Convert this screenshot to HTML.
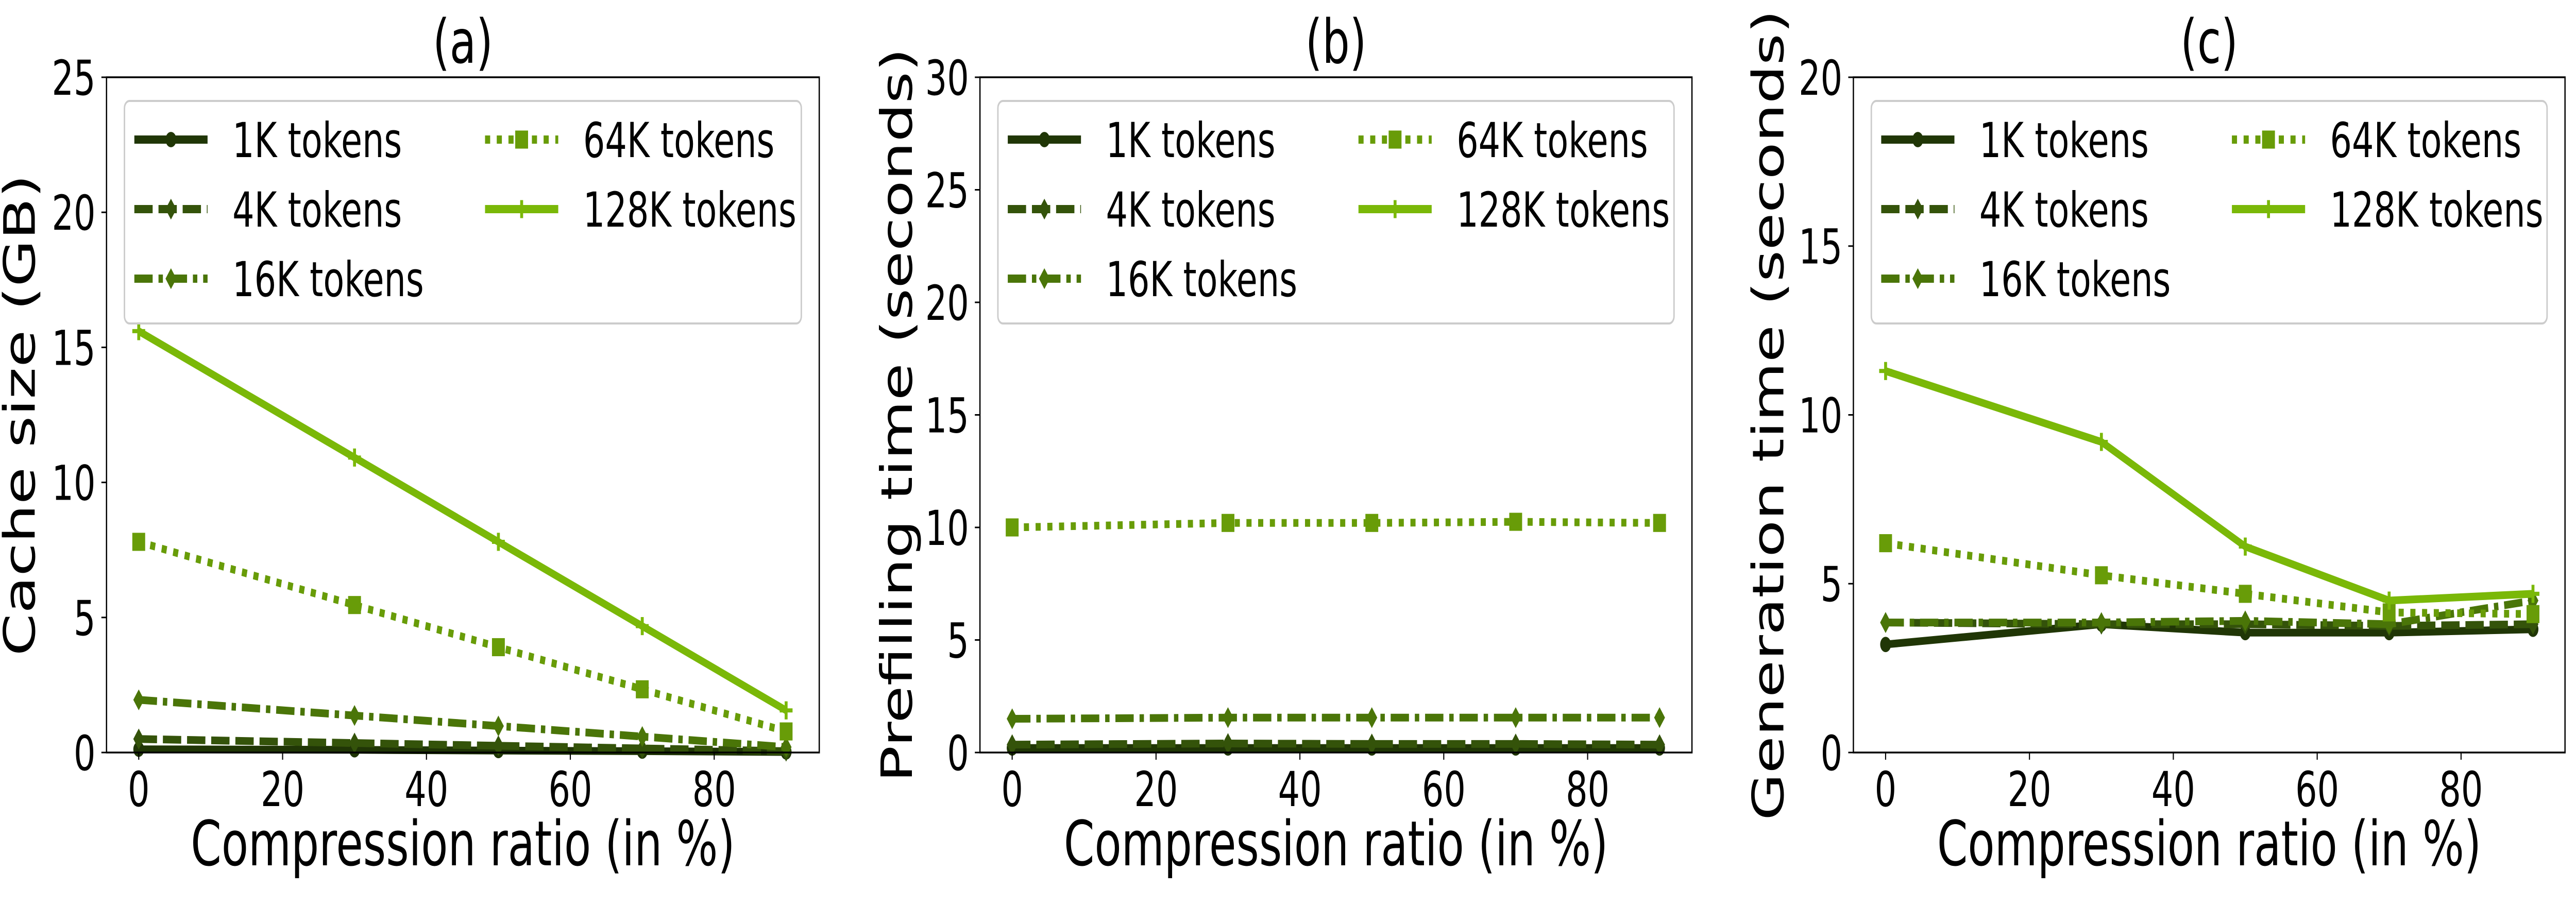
<!DOCTYPE html>
<html><head><meta charset="utf-8"><style>html,body{margin:0;padding:0;background:#fff;width:100%;height:100%;overflow:hidden}svg{display:block;position:absolute;left:0;top:0;width:100vw;height:100vh}</style></head>
<body>
<svg id="s" xmlns="http://www.w3.org/2000/svg" viewBox="0 0 7037 1759" preserveAspectRatio="none" font-family="DejaVu Sans, Liberation Sans, sans-serif"></svg>
<script>
const S=document.getElementById('s');let h='';
const cols=['#203606','#34530a','#4a7508','#689c08','#7ab808'];
const dashes=['','50 16','50 16 12 16','14 18',''];
const markers=['c','d','d','s','p'];
const names=['1K tokens','4K tokens','16K tokens','64K tokens','128K tokens'];
const xs=[0,30,50,70,90];
const panels=[
 {L:291,R:2238,ymax:25,step:5,title:'(a)',yl:'Cache size (GB)',ylx:95,
  d:[[0.12,0.1,0.07,0.05,0.02],[0.5,0.35,0.25,0.15,0.05],[1.95,1.37,0.98,0.59,0.2],[7.8,5.46,3.9,2.34,0.78],[15.6,10.92,7.8,4.68,1.56]]},
 {L:2677,R:4622,ymax:30,step:5,title:'(b)',yl:'Prefilling time (seconds)',ylx:2491,
  d:[[0.2,0.2,0.2,0.2,0.2],[0.35,0.4,0.38,0.38,0.35],[1.5,1.55,1.55,1.55,1.55],[10.0,10.2,10.2,10.25,10.2],null]},
 {L:5063,R:7007,ymax:20,step:5,title:'(c)',yl:'Generation time (seconds)',ylx:4872,
  d:[[3.2,3.8,3.55,3.55,3.65],[3.85,3.8,3.8,3.75,3.8],[3.85,3.85,3.9,3.8,4.5],[6.2,5.25,4.7,4.15,4.1],[11.3,9.2,6.1,4.5,4.7]]}
];
const T=150,B=1461;
function mk(t,x,y,c,s){s=s||1.35;
 if(t=='c')return `<circle cx="${x}" cy="${y}" r="${11*s}" fill="${c}"/>`;
 if(t=='d')return `<polygon points="${x},${y-15*s} ${x+11*s},${y} ${x},${y+15*s} ${x-11*s},${y}" fill="${c}"/>`;
 if(t=='s')return `<rect x="${x-13*s}" y="${y-13*s}" width="${26*s}" height="${26*s}" fill="${c}"/>`;
 return `<path d="M${x-13*s} ${y}H${x+13*s}M${x} ${y-13*s}V${y+13*s}" stroke="${c}" stroke-width="8"/>`;}
for(const p of panels){
 const X=v=>p.L+88+v*19.65;
 const Y=v=>B-(B-T)*v/p.ymax;
 for(let i=0;i<5;i++){if(!p.d[i])continue;
  const pts=xs.map((x,k)=>X(x).toFixed(1)+','+Y(p.d[i][k]).toFixed(1)).join(' ');
  h+=`<polyline points="${pts}" fill="none" stroke="${cols[i]}" stroke-width="15" ${dashes[i]?'stroke-dasharray="'+dashes[i]+'"':''}/>`;
  xs.forEach((x,k)=>h+=mk(markers[i],X(x),Y(p.d[i][k]),cols[i]));}
 h+=`<rect x="${p.L}" y="${T}" width="${p.R-p.L}" height="${B-T}" fill="none" stroke="#000" stroke-width="3.5"/>`;
 for(let v=0;v<=p.ymax;v+=p.step){const y=Y(v);
  h+=`<line x1="${p.L-14}" x2="${p.L}" y1="${y}" y2="${y}" stroke="#000" stroke-width="3"/>`;
  h+=`<text x="${p.L-30}" y="${y+34}" font-size="94" text-anchor="end">${v}</text>`;}
 for(let v=0;v<=80;v+=20){const x=X(v);
  h+=`<line x1="${x}" x2="${x}" y1="${B}" y2="${B+14}" stroke="#000" stroke-width="3"/>`;
  h+=`<text x="${x}" y="${B+104}" font-size="94" text-anchor="middle">${v}</text>`;}
 const cx=(p.L+p.R)/2;
 h+=`<text x="${cx}" y="1680" font-size="120" text-anchor="middle">Compression ratio (in %)</text>`;
 h+=`<text x="${cx}" y="122" font-size="118" text-anchor="middle">${p.title}</text>`;
 h+=`<text transform="translate(${p.ylx},806) rotate(-90)" font-size="118" text-anchor="middle">${p.yl}</text>`;
 const lx=p.L+49, lw=(p.R-p.L)-98;
 h+=`<rect x="${lx}" y="196" width="${lw}" height="432" rx="14" fill="#fff" fill-opacity="0.85" stroke="#cccccc" stroke-width="4"/>`;
 const pos=[[0,271],[0,406],[0,541],[1,271],[1,406]];
 for(let i=0;i<5;i++){const hx=lx+(pos[i][0]?985:27), y=pos[i][1];
  h+=`<line x1="${hx}" x2="${hx+200}" y1="${y}" y2="${y}" stroke="${cols[i]}" stroke-width="16" ${dashes[i]?'stroke-dasharray="'+dashes[i]+'"':''}/>`;
  h+=mk(markers[i],hx+100,y,cols[i]);
  h+=`<text x="${hx+268}" y="${y+34}" font-size="94">${names[i]}</text>`;}
}
S.innerHTML=h;
</script>
</body></html>
